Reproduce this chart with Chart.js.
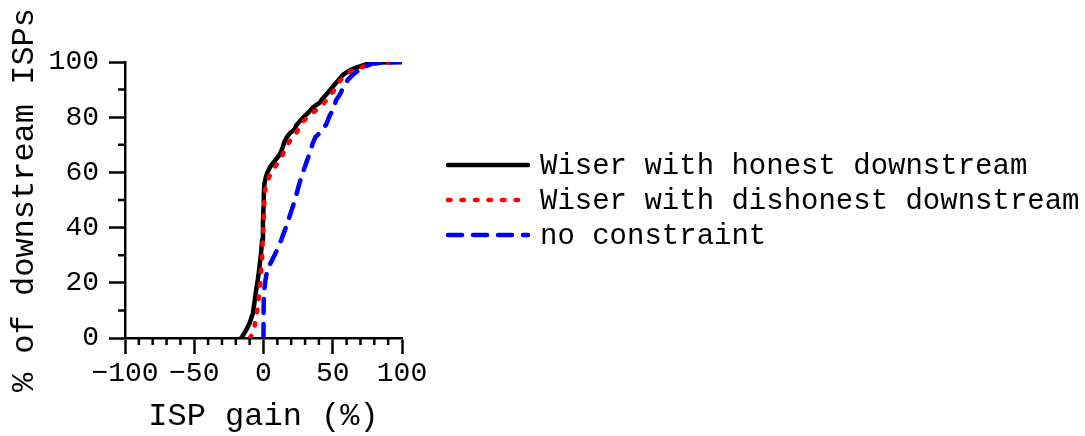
<!DOCTYPE html>
<html>
<head>
<meta charset="utf-8">
<title>ISP gain CDF</title>
<script src="https://cdn.jsdelivr.net/npm/chart.js@4/dist/chart.umd.min.js"></script>
<style>
  html, body { margin: 0; padding: 0; background: #fff; }
  #wrap { width: 1085px; height: 436px; }
</style>
</head>
<body>
<div id="wrap"><canvas id="cdf" width="1085" height="436"></canvas></div>
<script>
// Cumulative share of downstream ISPs (%) against ISP gain (%)
const seriesLabels = [
  'Wiser with honest downstream',
  'Wiser with dishonest downstream',
  'no constraint'
];

const honestGain = [-16.1, -14.5, -12.5, -10.1, -7.7, -6.5, -5.3, -4, -2.9, -1.8, -1, -0.4, 0, 0.2, 0.7, 1.8, 3.1, 4.8, 6.7, 9, 11.6, 13.5, 15.2, 16.4, 19, 22.4, 23.6, 26, 29, 33, 35, 38, 40.4, 42.8, 46, 50, 53, 57.3, 60, 63, 66.9, 71.7, 76.5, 85, 100];
const honestPct  = [0, 1.2, 2.9, 5.3, 8.9, 13, 17.4, 21.5, 25.8, 30.5, 35.5, 41.5, 47.6, 52.4, 56, 58.5, 60.3, 62, 63.3, 64.8, 66.3, 68.5, 71.2, 72.4, 74.2, 75.5, 77, 78.4, 80, 82, 83.2, 84.4, 85.2, 86.8, 88.6, 91, 92.8, 95.3, 96.2, 97.2, 98, 98.8, 99.5, 99.8, 100];

const dishonestGain = [-10, -8.9, -7.5, -6.5, -5.3, -4.1, -2.9, -2.4, -1.7, -1, -0.5, 0, 0.4, 0.7, 1.5, 3.1, 5, 6.7, 9, 11.6, 14, 16.4, 18.8, 21, 23.6, 26, 28.4, 32, 36, 40.4, 44, 47.7, 50.5, 53, 54.9, 58, 60.9, 65, 69.3, 75, 81.4, 90, 100];
const dishonestPct  = [0, 0.8, 2.5, 4.1, 7.5, 11.4, 17, 19.8, 25, 29.5, 36, 41.5, 47, 51.2, 55, 57.2, 59.3, 60.9, 62.6, 64.5, 66.5, 69.3, 71.2, 72.8, 74.2, 76.5, 78.4, 80, 81.8, 83.4, 85.3, 87.4, 89.5, 91.5, 93, 94.8, 96, 97, 97.8, 98.8, 99.5, 99.8, 100];

const freeGain = [0, 0, 0.2, 0.7, 1.4, 2.5, 4.3, 6.5, 9.2, 11, 12.8, 14.6, 16.4, 18.8, 21.2, 23.5, 26, 28.5, 30.8, 33, 35.6, 37.5, 40.4, 43, 45.2, 47.7, 50, 52.5, 54.9, 58.5, 61, 63.3, 66, 69.3, 73, 78.9, 88, 100];
const freePct  = [0, 7, 13.8, 18, 21, 24, 26.4, 28.5, 31.3, 33.3, 35.5, 38, 40.4, 44, 47.7, 51.5, 56.2, 60, 63.4, 66.5, 70.6, 72.8, 74.2, 75.8, 77.3, 80.5, 82.5, 86.2, 88, 91.7, 93.6, 94.8, 96, 97.2, 98.3, 99.5, 99.9, 100];

const xTickValues = [-100, -50, 0, 50, 100];
const yTickValues = [0, 20, 40, 60, 80, 100];
const xMinorValues = [-90, -80, -70, -60, -40, -30, -20, -10, 10, 20, 30, 40, 60, 70, 80, 90];
const yMinorValues = [10, 30, 50, 70, 90];

const MONO = "'Liberation Mono', 'Courier New', monospace";

function pairs(xs, ys) {
  return xs.map((x, i) => ({ x: x, y: ys[i] }));
}

function fmtTick(v) {
  return v < 0 ? '\u2212' + Math.abs(v) : String(v);
}

// Short unlabelled ticks between the labelled ones
const minorTicks = {
  id: 'minorTicks',
  afterDraw(chart) {
    const ctx = chart.ctx;
    const xs = chart.scales.x, ys = chart.scales.y;
    const len = 7;
    ctx.save();
    ctx.strokeStyle = '#000';
    ctx.lineWidth = 2.5;
    ctx.beginPath();
    xMinorValues.forEach(v => {
      const px = xs.getPixelForValue(v);
      ctx.moveTo(px, xs.top);
      ctx.lineTo(px, xs.top + len);
    });
    yMinorValues.forEach(v => {
      const py = ys.getPixelForValue(v);
      ctx.moveTo(ys.right, py);
      ctx.lineTo(ys.right - len, py);
    });
    ctx.stroke();
    ctx.restore();
  }
};

// Key with line samples, placed to the right of the plot
const sideKey = {
  id: 'sideKey',
  afterDraw(chart) {
    const ctx = chart.ctx;
    const area = chart.chartArea;
    const midY = (area.top + area.bottom) / 2;
    const rowGap = 35;
    const x0 = area.right + 46, x1 = area.right + 126, xt = area.right + 138;
    ctx.save();
    chart.data.datasets.forEach((ds, i) => {
      const y = midY + (i - 1) * rowGap;
      ctx.beginPath();
      ctx.strokeStyle = ds.borderColor;
      ctx.lineWidth = ds.borderWidth;
      ctx.lineCap = ds.borderCapStyle || 'butt';
      ctx.setLineDash(ds.borderDash || []);
      ctx.moveTo(x0, y);
      ctx.lineTo(x1, y);
      ctx.stroke();
      ctx.setLineDash([]);
      ctx.fillStyle = '#000';
      ctx.font = '29px ' + MONO;
      ctx.textAlign = 'left';
      ctx.textBaseline = 'middle';
      ctx.fillText(ds.label, xt, y + 1);
    });
    ctx.restore();
  }
};

new Chart(document.getElementById('cdf'), {
  type: 'scatter',
  data: {
    datasets: [
      {
        label: seriesLabels[0],
        data: pairs(honestGain, honestPct),
        showLine: true,
        borderColor: '#000000',
        borderWidth: 4.5,
        borderCapStyle: 'round',
        borderJoinStyle: 'round',
        pointRadius: 0,
        order: 3
      },
      {
        label: seriesLabels[1],
        data: pairs(dishonestGain, dishonestPct),
        showLine: true,
        borderColor: '#ff0000',
        borderWidth: 4.5,
        borderDash: [2.5, 11],
        borderCapStyle: 'round',
        borderJoinStyle: 'round',
        pointRadius: 0,
        order: 2
      },
      {
        label: seriesLabels[2],
        data: pairs(freeGain, freePct),
        showLine: true,
        borderColor: '#0000ff',
        borderWidth: 4.5,
        borderDash: [14, 11],
        borderCapStyle: 'round',
        borderJoinStyle: 'round',
        pointRadius: 0,
        order: 1
      }
    ]
  },
  options: {
    responsive: false,
    animation: false,
    devicePixelRatio: 1,
    layout: { padding: { left: 0, right: 683, top: 62, bottom: 0 } },
    plugins: {
      legend: { display: false },
      tooltip: { enabled: false }
    },
    scales: {
      x: {
        type: 'linear',
        min: -100,
        max: 100,
        afterFit(s) { s.height = 98; },
        afterBuildTicks(s) { s.ticks = xTickValues.map(v => ({ value: v })); },
        border: { display: true, color: '#000', width: 2.5 },
        grid: { display: true, drawOnChartArea: false, drawTicks: true, tickLength: 16, tickWidth: 2.5, tickColor: '#000' },
        ticks: {
          padding: 3,
          color: '#000',
          font: { family: MONO, size: 28 },
          maxRotation: 0,
          autoSkip: false,
          callback: v => fmtTick(v)
        },
        title: {
          display: true,
          text: 'ISP gain (%)',
          color: '#000',
          font: { family: MONO, size: 32 },
          padding: { top: 0, bottom: 0 }
        }
      },
      y: {
        type: 'linear',
        min: 0,
        max: 100,
        afterFit(s) { s.width = 125; },
        afterBuildTicks(s) { s.ticks = yTickValues.map(v => ({ value: v })); },
        border: { display: true, color: '#000', width: 2.5 },
        grid: { display: true, drawOnChartArea: false, drawTicks: true, tickLength: 16, tickWidth: 2.5, tickColor: '#000' },
        ticks: {
          padding: 10,
          color: '#000',
          font: { family: MONO, size: 28 },
          autoSkip: false,
          callback: v => fmtTick(v)
        },
        title: {
          display: true,
          text: '% of downstream ISPs',
          color: '#000',
          font: { family: MONO, size: 32 },
          padding: { top: 5, bottom: 0 }
        }
      }
    }
  },
  plugins: [minorTicks, sideKey]
});
</script>
</body>
</html>
